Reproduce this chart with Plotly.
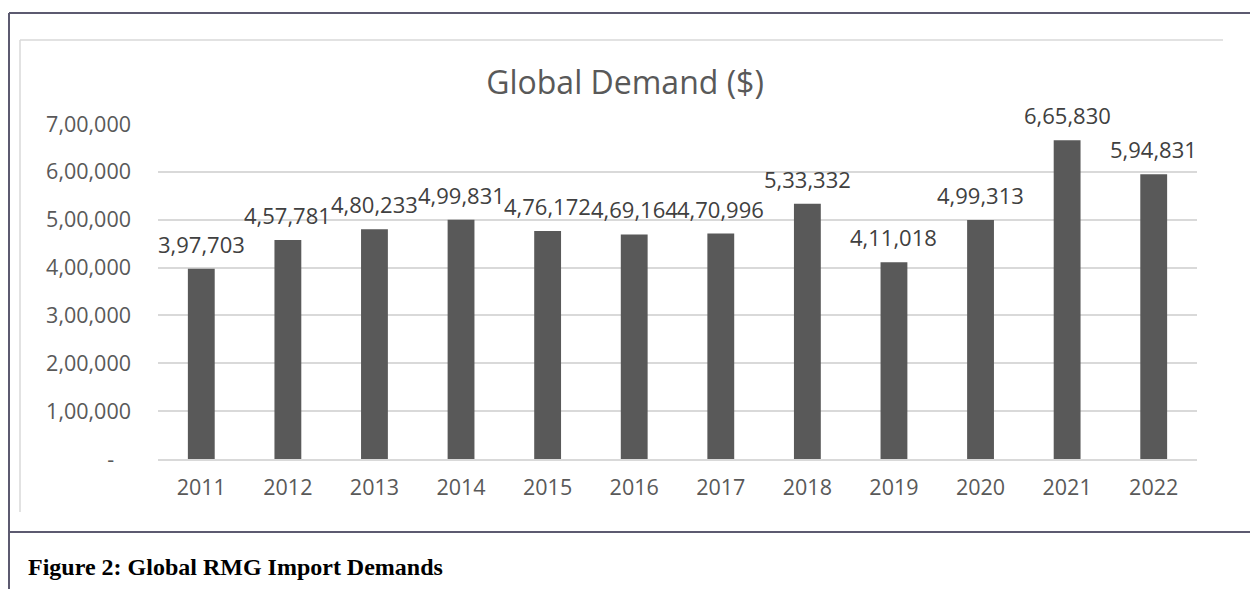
import plotly.graph_objects as go

# Global RMG import demand by year (USD)
years = ["2011", "2012", "2013", "2014", "2015", "2016",
         "2017", "2018", "2019", "2020", "2021", "2022"]
demand = [397703, 457781, 480233, 499831, 476172, 469164,
          470996, 533332, 411018, 499313, 665830, 594831]
y_ticks = [0, 100000, 200000, 300000, 400000, 500000, 600000, 700000]


def lakh_format(n):
    """Format an integer with Indian digit grouping (e.g. 3,97,703)."""
    s = str(int(n))
    if len(s) <= 3:
        return s
    head, tail = s[:-3], s[-3:]
    groups = []
    while len(head) > 2:
        groups.insert(0, head[-2:])
        head = head[:-2]
    if head:
        groups.insert(0, head)
    return ",".join(groups) + "," + tail


y_tick_text = ["-\u00a0\u00a0\u00a0" if v == 0 else lakh_format(v) for v in y_ticks]

W, H = 1250, 589
L, R, T, B = 158, 53, 124, 130
plot_w = W - L - R
plot_h = H - T - B


def px_x(px):
    return (px - L) / plot_w


def px_y(py):
    return (H - B - py) / plot_h


GRID = "#d9d9d9"
BAR = "#595959"
FRAME = "#5c5a70"
FONT = "Open Sans"

fig = go.Figure()
fig.add_trace(go.Bar(
    x=years, y=demand,
    marker=dict(color=BAR, line=dict(width=0)),
    hoverinfo="skip",
))

# value labels above each bar (category index keeps numeric-looking years as categories)
for i, v in enumerate(demand):
    fig.add_annotation(
        x=i, y=v, xref="x", yref="y",
        text=lakh_format(v), showarrow=False,
        yanchor="middle", yshift=25,
        font=dict(family=FONT, size=22, color="#404040"),
    )

# caption below the chart box
fig.add_annotation(
    x=px_x(26), y=px_y(567), xref="paper", yref="paper",
    text="<b>Figure 2: Global RMG Import Demands</b>", showarrow=False,
    xanchor="left", yanchor="middle",
    font=dict(family="Liberation Serif", size=24, color="#000000"),
)


def paper_line(x0, y0, x1, y1, color, width):
    return dict(type="line", xref="paper", yref="paper",
                x0=px_x(x0), x1=px_x(x1), y0=px_y(y0), y1=px_y(y1),
                line=dict(color=color, width=width), layer="above")


shapes = [
    # outer frame
    paper_line(9, 13, 1252, 13, FRAME, 2),
    paper_line(9, 13, 9, 592, FRAME, 2),
    paper_line(9, 532, 1252, 532, FRAME, 2),
    # chart area border
    paper_line(20, 40, 1223, 40, GRID, 1.5),
    paper_line(20, 40, 20, 512, GRID, 1.5),
]

fig.update_layout(
    width=W, height=H,
    margin=dict(l=L, r=R, t=T, b=B),
    paper_bgcolor="white", plot_bgcolor="white",
    showlegend=False,
    bargap=0.69,
    shapes=shapes,
    title=dict(
        text="Global Demand ($)",
        x=0.5, xref="container", xanchor="center",
        y=1 - 83 / H, yref="container", yanchor="middle",
        font=dict(family=FONT, size=32, color="#595959"),
    ),
    xaxis=dict(
        type="category", range=[-0.5, len(years) - 0.5],
        showgrid=False, showline=True, linecolor=GRID, linewidth=1.5,
        ticks="", ticklabelstandoff=8,
        tickfont=dict(family=FONT, size=21.5, color="#595959"),
    ),
    yaxis=dict(
        range=[0, 700000],
        tickvals=y_ticks, ticktext=y_tick_text,
        showgrid=True, gridcolor=GRID, gridwidth=1.5,
        zeroline=False, showline=False,
        ticks="", ticklabelstandoff=26,
        tickfont=dict(family=FONT, size=21.5, color="#595959"),
    ),
)

fig.write_html("out.html")
